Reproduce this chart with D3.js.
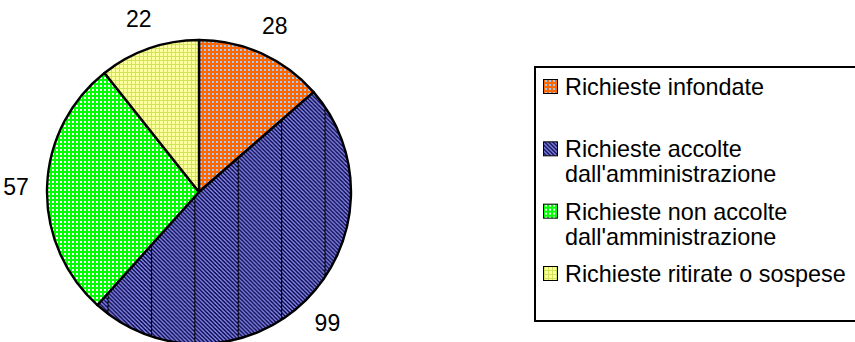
<!DOCTYPE html>
<html>
<head>
<meta charset="utf-8">
<script src="https://cdn.jsdelivr.net/npm/d3@7"></script>
<style>
  html, body { margin: 0; padding: 0; background: #fff; }
  svg { display: block; }
  text { font-family: "Liberation Sans", Arial, sans-serif; fill: #000; }
</style>
</head>
<body>
<svg id="chart" width="855" height="342"></svg>
<script>
// Esito delle richieste
const categories = [
  "Richieste infondate",
  "Richieste accolte dall'amministrazione",
  "Richieste non accolte dall'amministrazione",
  "Richieste ritirate o sospese"
];
const legendLines = [
  ["Richieste infondate"],
  ["Richieste accolte", "dall'amministrazione"],
  ["Richieste non accolte", "dall'amministrazione"],
  ["Richieste ritirate o sospese"]
];
const values = [28, 99, 57, 22];
const patternIds = ["pat-orange", "pat-navy", "pat-green", "pat-yellow"];

const svg = d3.select("#chart");
const defs = svg.append("defs");

// orange with light-blue dots
const p0 = defs.append("pattern").attr("id", "pat-orange")
  .attr("patternUnits", "userSpaceOnUse").attr("width", 4).attr("height", 4);
p0.append("rect").attr("width", 4).attr("height", 4).attr("fill", "#FF6600");
p0.append("rect").attr("x", 1).attr("y", 1).attr("width", 2).attr("height", 2).attr("fill", "#99CCFF");

// navy / lavender diagonal stripes
const p1 = defs.append("pattern").attr("id", "pat-navy")
  .attr("patternUnits", "userSpaceOnUse").attr("width", 4).attr("height", 4);
p1.append("rect").attr("width", 4).attr("height", 4).attr("fill", "#8A8AEE");
p1.append("path").attr("d", "M-1,-1 L5,5 M-1,3 L1,5 M3,-1 L5,1")
  .attr("stroke", "#000040").attr("stroke-width", 1.3);

// seams across the striped slice
const p1b = defs.append("pattern").attr("id", "pat-navy-seams")
  .attr("patternUnits", "userSpaceOnUse").attr("x", 107.5).attr("width", 43.4).attr("height", 400);
p1b.append("rect").attr("width", 43.4).attr("height", 400).attr("fill", "url(#pat-navy)");
p1b.append("line").attr("x1", 0.5).attr("x2", 0.5).attr("y1", 0).attr("y2", 400)
  .attr("stroke", "#000").attr("stroke-width", 1.2);

// green with white dots
const p2 = defs.append("pattern").attr("id", "pat-green")
  .attr("patternUnits", "userSpaceOnUse").attr("width", 4).attr("height", 4);
p2.append("rect").attr("width", 4).attr("height", 4).attr("fill", "#00FF00");
p2.append("rect").attr("x", 1).attr("y", 1).attr("width", 2).attr("height", 2).attr("fill", "#FFFFFF");

// pale yellow with yellow-green grid
const p3 = defs.append("pattern").attr("id", "pat-yellow")
  .attr("patternUnits", "userSpaceOnUse").attr("width", 4).attr("height", 4);
p3.append("rect").attr("width", 4).attr("height", 4).attr("fill", "#FFFFA0");
p3.append("rect").attr("x", 0).attr("y", 0).attr("width", 1).attr("height", 4).attr("fill", "#D0E45A");
p3.append("rect").attr("x", 0).attr("y", 0).attr("width", 4).attr("height", 1).attr("fill", "#D0E45A");

const fillFor = i => i === 1 ? "url(#pat-navy-seams)" : `url(#${patternIds[i]})`;

// pie
const cx = 199, cy = 192, r = 152;
const pie = d3.pie().sort(null).value(d => d).startAngle(0).endAngle(2 * Math.PI);
const arcs = pie(values);
const arc = d3.arc().innerRadius(0).outerRadius(r);
const labelArc = d3.arc().innerRadius(183).outerRadius(183);

const g = svg.append("g").attr("transform", `translate(${cx},${cy})`);
g.selectAll("path.slice").data(arcs).join("path")
  .attr("class", "slice")
  .attr("d", arc)
  .attr("fill", (d, i) => fillFor(i))
  .attr("stroke", "#000").attr("stroke-width", 2.4).attr("stroke-linejoin", "round");

// seams pattern lives in the group's user space; shift it back to page space
p1b.attr("patternTransform", `translate(${-cx},${-cy})`);

g.selectAll("text.val").data(arcs).join("text")
  .attr("class", "val")
  .attr("transform", d => `translate(${labelArc.centroid(d)})`)
  .attr("text-anchor", "middle")
  .attr("dy", "0.36em")
  .style("font-size", "23px")
  .text(d => d.data);

// legend
const lx = 535, ly = 67, lw = 340, lh = 254;
svg.append("rect").attr("x", lx).attr("y", ly).attr("width", lw).attr("height", lh)
  .attr("fill", "#fff").attr("stroke", "#000").attr("stroke-width", 2);

const yScale = d3.scalePoint().domain(categories).range([95, 282]);
const items = svg.selectAll("g.item").data(categories).join("g").attr("class", "item")
  .attr("transform", d => `translate(0,${yScale(d)})`);
items.append("rect")
  .attr("x", 543.5).attr("y", -15.5).attr("width", 14).attr("height", 14)
  .attr("fill", (d, i) => `url(#${patternIds[i]})`)
  .attr("stroke", "#000").attr("stroke-width", 1);
items.append("text")
  .attr("x", 565).attr("y", 0)
  .style("font-size", "23.4px")
  .selectAll("tspan").data((d, i) => legendLines[i]).join("tspan")
  .attr("x", 565).attr("dy", (d, j) => j === 0 ? 0 : 25)
  .text(d => d);
</script>
</body>
</html>
